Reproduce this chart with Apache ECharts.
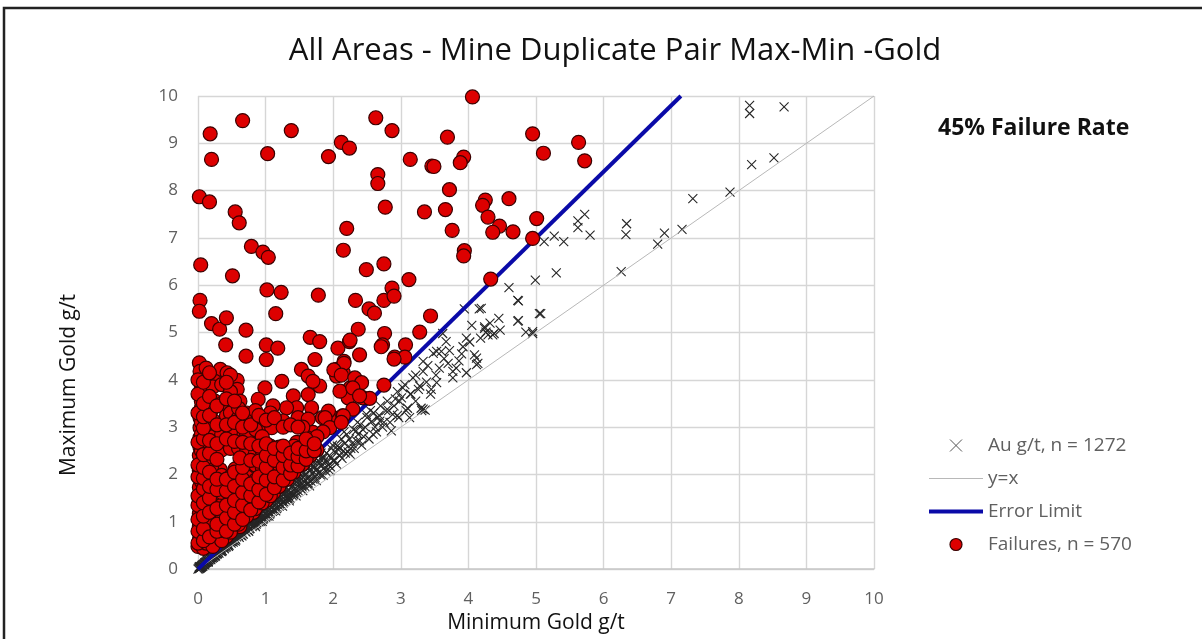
<!DOCTYPE html>
<html>
<head>
<meta charset="utf-8">
<script src="https://cdn.jsdelivr.net/npm/echarts@6/dist/echarts.min.js"></script>
<style>
  html, body { margin: 0; padding: 0; background: #ffffff; }
  #chart { width: 1202px; height: 639px; }
</style>
</head>
<body>
<div id="chart"></div>
<script>
// Axis ticks (g/t)
const xTicks = [0, 1, 2, 3, 4, 5, 6, 7, 8, 9, 10];
const yTicks = [0, 1, 2, 3, 4, 5, 6, 7, 8, 9, 10];

// Reference lines: [min, max]
const unityLine = [[0, 0], [10, 10]];
const errorLimit = [[0, 0], [7.143, 10]];

// Duplicate pairs that pass (min g/t, max g/t)
const auPairs = [
  [8.16,9.80],[8.16,9.63],[8.67,9.77],[8.19,8.55],[8.52,8.69],[7.32,7.83],[7.87,7.97],
  [7.16,7.18],[6.90,7.10],[6.80,6.87],[6.34,7.30],[6.33,7.07],[6.26,6.29],[5.72,7.50],
  [5.62,7.36],[5.62,7.22],[5.80,7.06],[5.27,7.04],[5.12,6.92],[5.41,6.92],[5.30,6.26],
  [4.99,6.11],[4.73,5.68],[4.16,5.50],[3.94,5.50],[5.07,5.40],[4.73,5.24],[4.24,5.12],
  [4.26,5.01],[4.38,4.98],[4.85,5.01],[4.95,4.98],[5.05,5.40],[4.74,5.67],[4.74,5.25],
  [4.95,5.02],[4.19,5.51],[4.24,5.09],[4.36,4.95],[3.97,4.88],[3.67,4.81],[3.53,4.60],
  [4.09,4.53],[4.14,4.35],[3.82,4.25],[3.57,4.25],[3.33,4.18],[3.18,4.04],[3.28,3.87],
  [3.53,3.94],[3.77,4.04],[3.97,4.15],[3.03,3.83],[2.98,3.55],[3.33,3.38],[3.30,3.40],
  [3.36,3.36],[3.31,3.35],[3.13,3.20],[2.88,3.27],[2.69,3.13],[2.86,2.92],[2.59,2.85],
  [2.39,2.71],[2.34,2.92],[2.49,3.27],[2.15,2.50],[2.00,2.29],[2.25,2.43],[1.95,2.08],
  [3.77,4.18],[4.12,4.32],[4.12,4.46],[3.48,4.56],[3.33,4.39],[3.06,3.90],[2.97,3.20],
  [4.29,4.95],[3.62,4.98],[3.10,3.40],[2.75,3.10],[2.62,3.00],[2.80,3.55],[2.70,3.45],
  [2.92,3.60],[2.60,3.30],[2.50,3.20],[2.45,2.80],[2.40,3.05],[2.35,2.70],[2.30,2.95],
  [2.26,2.55],[2.20,2.85],[2.18,2.45],[2.12,2.75],[2.10,2.40],[2.06,2.60],[2.02,2.30],
  [1.97,2.55],[1.93,2.20],[1.90,2.45],[1.88,2.15],[1.84,2.35],[1.80,2.05],[1.78,2.30],
  [1.75,2.00],[1.72,2.15],[1.70,1.90],[1.66,2.10],[1.63,1.82],[1.60,2.00],[1.58,1.75],
  [1.55,1.95],[1.52,1.70],[1.50,1.85],[1.46,1.62],[1.43,1.80],[1.40,1.55],[1.38,1.72],
  [1.36,1.50],[1.33,1.65],[1.30,1.45],[1.28,1.60],[1.26,1.40],[1.23,1.55],[1.20,1.33],
  [1.18,1.48],[1.16,1.28],[1.13,1.42],[1.10,1.22],[1.08,1.35],[1.06,1.16],[1.03,1.30],
  [1.00,1.10],[0.98,1.25],[0.96,1.05],[0.93,1.18],[0.90,1.00],[0.88,1.12],[0.86,0.95],
  [0.83,1.05],[0.80,0.90],[0.78,0.98],[0.76,0.85],[0.73,0.92],[0.70,0.80],[0.68,0.88],
  [0.66,0.75],[0.63,0.80],[0.60,0.70],[0.58,0.72],[0.55,0.64],[0.53,0.68],[0.50,0.58],
  [0.48,0.60],[0.45,0.52],[0.43,0.55],[0.40,0.46],[0.38,0.48],[0.35,0.40],[0.32,0.42],
  [0.30,0.36],[0.27,0.35],[0.25,0.30],[0.22,0.27],[0.20,0.25],[0.18,0.21],[0.16,0.20],
  [0.14,0.18],[0.12,0.15],[0.10,0.12],[0.08,0.10],[0.06,0.08],[0.05,0.06],[0.03,0.04],
  [0.02,0.05],[0.02,0.01],[0.01,0.02],[0.00,0.00],[0.04,0.03],[0.07,0.09],[0.11,0.14],
  [0.15,0.17],[0.19,0.24],[0.24,0.31],[0.29,0.33],[0.34,0.45],[0.39,0.52],[0.44,0.50],
  [0.47,0.64],[0.52,0.60],[0.57,0.78],[0.62,0.74],[0.67,0.91],[0.72,0.84],[0.77,1.02],
  [0.82,0.94],[0.87,1.15],[0.92,1.04],[0.97,1.30],[1.02,1.14],[1.07,1.42],[1.12,1.26],
  [1.17,1.55],[1.22,1.38],[1.27,1.68],[1.32,1.50],[1.37,1.80],[1.42,1.62],[1.47,1.92],
  [1.53,1.78],[1.57,2.05],[1.62,1.90],[1.68,2.20],[1.74,2.08],[1.82,2.45],[1.86,2.25],
  [1.99,2.62],[2.08,2.52],[2.16,2.90],[2.28,2.65],[2.36,3.10],[2.44,2.95],[2.55,3.35],
  [2.66,3.20],[2.82,3.35],[2.95,3.75],[3.15,3.70],[3.22,4.10],[3.40,4.30],[3.45,3.80],
  [3.60,4.60],[3.70,4.35],[3.90,4.55],[4.05,5.15],[4.45,5.30],[4.60,5.95],
  [0.02,0.03],[0.03,0.02],[0.04,0.05],[0.05,0.04],[0.06,0.07],[0.07,0.06],[0.09,0.11],
  [0.10,0.09],[0.11,0.13],[0.13,0.14],[0.13,0.17],[0.15,0.16],[0.16,0.19],[0.17,0.22],
  [0.19,0.20],[0.21,0.26],[0.21,0.23],[0.23,0.25],[0.24,0.29],[0.26,0.28],[0.26,0.33],
  [0.28,0.31],[0.29,0.37],[0.31,0.34],[0.33,0.38],[0.34,0.43],[0.36,0.39],[0.37,0.46],
  [0.39,0.43],[0.41,0.50],[0.42,0.47],[0.44,0.57],[0.46,0.50],[0.47,0.58],[0.49,0.55],
  [0.51,0.63],[0.52,0.57],[0.54,0.70],[0.56,0.62],[0.57,0.68],[0.59,0.75],[0.61,0.67],
  [0.62,0.78],[0.64,0.71],[0.65,0.84],[0.67,0.74],[0.69,0.85],[0.71,0.78],[0.72,0.94],
  [0.74,0.82],[0.75,0.90],[0.77,0.86],[0.79,1.02],[0.81,0.92],[0.82,0.99],[0.84,0.93],
  [0.85,1.08],[0.87,0.98],[0.89,1.06],[0.91,1.13],[0.92,1.01],[0.94,1.10],[0.95,1.22],
  [0.97,1.08],[0.99,1.18],[1.01,1.28],[1.02,1.12],[1.04,1.22],[1.05,1.35],[1.07,1.19],
  [1.09,1.30],[1.11,1.40],[1.12,1.24],[1.14,1.36],[1.15,1.46],[1.17,1.30],[1.19,1.42],
  [1.21,1.50],[1.22,1.36],[1.24,1.47],[1.25,1.58],[1.27,1.42],[1.29,1.52],[1.31,1.64],
  [1.34,1.55],[1.35,1.48],[1.37,1.62],[1.39,1.76],[1.41,1.58],[1.44,1.70],[1.45,1.85],
  [1.48,1.66],[1.49,1.78],[1.51,1.93],[1.54,1.74],[1.56,1.86],[1.59,1.98],[1.61,1.80],
  [1.64,1.95],[1.65,2.08],[1.67,1.86],[1.69,2.02],[1.71,2.18],[1.73,1.94],[1.76,2.12],
  [1.79,2.22],[1.81,1.99],[1.83,2.18],[1.86,2.35],[1.89,2.07],[1.91,2.28],[1.94,2.40],
  [1.96,2.16],[1.98,2.35],[2.03,2.48],[2.05,2.22],[2.09,2.58],[2.13,2.34],[2.17,2.65],
  [2.22,2.48],[2.24,2.75],[2.31,2.55],[2.37,2.85],[2.42,2.62],[2.47,3.00],[2.53,2.75],
  [2.57,3.12],[2.64,2.90],[2.68,3.25],[2.73,3.00],[2.78,3.35],[2.84,3.10],[2.90,3.45],
  [2.95,3.25],[3.01,3.62],[3.08,3.35],[3.14,3.70],[3.22,3.55],[3.26,3.80],[3.38,3.95],
  [3.44,3.70],[3.52,4.10],[3.64,4.45],[3.72,4.62],[3.86,4.40],[3.92,4.70],[4.02,4.80],
  [4.18,4.88],[4.32,5.20],[4.47,5.05],
  [0.10,0.13],[0.14,0.19],[0.18,0.24],[0.22,0.29],[0.26,0.35],[0.30,0.40],[0.34,0.46],
  [0.38,0.51],[0.42,0.56],[0.46,0.62],[0.50,0.66],[0.54,0.73],[0.58,0.78],[0.62,0.84],
  [0.66,0.88],[0.70,0.95],[0.74,0.99],[0.78,1.06],[0.82,1.10],[0.86,1.17],[0.90,1.21],
  [0.94,1.27],[0.98,1.31],[1.02,1.38],[1.06,1.42],[1.10,1.48],[1.14,1.52],[1.18,1.58],
  [1.22,1.63],[1.26,1.69],[1.30,1.74],[1.34,1.80],[1.38,1.85],[1.42,1.90],[1.46,1.96],
  [1.50,2.02],[1.54,2.08],[1.58,2.12],[1.62,2.18],[1.66,2.24],[1.70,2.28],[1.74,2.34],
  [1.78,2.40],
  [0.15,0.15],[0.25,0.27],[0.35,0.37],[0.45,0.48],[0.55,0.59],[0.65,0.70],[0.75,0.80],
  [0.85,0.90],[0.95,1.01],[1.05,1.12],[1.15,1.23],[1.25,1.33],[1.35,1.44],[1.45,1.55],
  [1.55,1.66],[1.65,1.76],[1.75,1.87],[1.85,1.98]
];

// Duplicate pairs beyond the error limit (min g/t, max g/t)
const failurePairs = [
  [0.18,9.20],[0.66,9.48],[1.38,9.27],[1.03,8.78],[0.20,8.66],[1.93,8.72],[2.12,9.02],
  [2.24,8.90],[2.63,9.54],[2.87,9.27],[2.66,8.34],[2.66,8.15],[3.14,8.66],[3.46,8.52],
  [3.49,8.51],[0.02,7.87],[0.17,7.76],[0.55,7.55],[0.61,7.32],[2.77,7.65],[3.35,7.55],
  [2.20,7.20],[0.79,6.82],[0.96,6.70],[1.04,6.59],[2.15,6.74],[0.04,6.43],[0.51,6.20],
  [2.49,6.33],[2.75,6.45],[3.12,6.12],[0.03,5.68],[0.02,5.45],[1.02,5.90],[1.23,5.85],
  [1.78,5.79],[2.33,5.68],[2.53,5.50],[2.61,5.41],[2.75,5.68],[2.87,5.94],[2.90,5.77],
  [1.15,5.40],[0.20,5.19],[0.32,5.07],[0.42,5.31],[0.71,5.05],[2.37,5.07],[2.76,4.98],
  [3.28,5.01],[3.44,5.35],
  [4.06,9.98],[3.69,9.13],[4.95,9.20],[5.63,9.02],[5.11,8.79],[5.72,8.63],[3.93,8.71],
  [3.88,8.59],[3.72,8.02],[3.66,7.60],[4.25,7.80],[4.21,7.69],[4.29,7.44],[4.46,7.25],
  [4.60,7.83],[4.66,7.13],[4.36,7.12],[5.01,7.41],[4.95,6.99],[3.76,7.16],[3.94,6.73],
  [3.93,6.62],[4.33,6.13],
  [0.41,4.74],[1.01,4.74],[1.18,4.67],[1.01,4.43],[0.71,4.50],[1.66,4.90],[1.80,4.81],
  [1.73,4.43],[2.07,4.67],[2.24,4.81],[2.39,4.53],[2.16,4.39],[2.05,4.22],[2.15,4.15],
  [2.73,4.74],[3.07,4.74],[2.91,4.48],[3.06,4.48],[2.75,3.89],[1.53,4.22],[1.63,4.08],
  [1.80,3.87],[1.70,3.97],[1.24,3.97],[0.99,3.83],[0.02,4.36],[0.03,4.18],[0.15,4.04],
  [0.33,4.22],[0.43,4.15],[0.58,3.99],[0.25,3.97],[0.58,3.80],[0.62,3.55],[0.50,3.55],
  [0.25,3.55],[0.08,3.66],[0.05,3.41],[0.03,3.20],[0.03,2.99],[0.03,2.78],[0.03,2.57],
  [0.02,2.40],[0.02,2.08],[0.02,1.73],[0.02,1.45],[0.02,1.17],[0.02,0.90],[0.02,0.62],
  [0.00,0.48],
  [2.25,3.83],[2.32,3.76],[2.44,3.62],[2.54,3.61],[2.22,3.62],[2.10,3.76],[2.05,4.08],
  [1.41,3.66],[1.46,3.41],[1.63,3.69],[1.68,3.41],[1.31,3.41],[1.11,3.45],[1.09,3.24],
  [0.89,3.59],[0.84,3.13],[0.94,2.92],[0.82,2.64],[0.92,2.64],[0.62,2.92],[0.50,2.71],
  [0.33,2.68],[0.42,3.24],[0.33,2.99],[0.18,2.92],[1.26,3.13],[1.48,3.20],[1.63,3.17],
  [1.84,3.20],[1.95,3.06],[2.00,3.20],[2.14,3.24],[1.70,2.89],[1.61,2.78],[1.70,2.68],
  [1.46,2.68],[1.09,2.99],[1.11,2.47],[0.99,2.29],[1.21,2.43],[1.31,2.29],[1.51,2.29],
  [1.33,2.08],[1.14,2.08],[1.01,2.01],[0.87,2.01],[0.77,2.05],[0.55,2.12],[0.30,2.50],
  [0.33,2.10],[0.20,2.15],[0.13,1.98],[0.23,1.80],[0.42,1.80],[0.62,1.84],[0.82,1.73],
  [0.99,1.77],[1.16,1.80],[1.12,1.62],[1.01,1.45],[0.82,1.45],[0.62,1.45],[0.42,1.52],
  [0.28,1.45],[0.13,1.45],[0.10,1.17],[0.28,1.17],[0.47,1.17],[0.67,1.10],[0.82,1.20],
  [0.62,0.90],[0.42,0.90],[0.18,0.90],[0.13,0.62],[0.28,0.62],[0.42,0.69],[0.08,0.44],
  [2.71,4.70],[2.25,4.84],[2.90,4.44],[2.16,4.35],[2.01,4.21],[2.12,4.10],[2.32,4.04],
  [2.42,3.94],[2.29,3.83],[2.39,3.66],[2.29,3.38],[2.15,3.24],[1.93,3.34],[1.88,3.20],
  [1.95,2.99],[2.12,3.10],[1.85,2.90],
  [0.05,0.70],[0.05,0.95],[0.05,1.30],[0.05,1.60],[0.05,1.85],[0.05,2.25],[0.05,2.50],
  [0.05,2.85],[0.05,3.10],[0.05,3.55],[0.05,3.85],
  [0.12,0.55],[0.12,0.80],[0.12,1.05],[0.12,1.30],[0.12,1.62],[0.12,1.82],[0.12,2.35],
  [0.12,2.62],[0.12,3.05],[0.12,3.30],[0.12,3.75],[0.12,4.25],
  [0.22,0.48],[0.22,0.75],[0.22,1.00],[0.22,1.30],[0.22,1.58],[0.22,1.95],[0.22,2.55],
  [0.22,2.80],[0.22,3.15],[0.22,3.40],[0.22,3.85],
  [0.35,0.60],[0.35,0.82],[0.35,1.05],[0.35,1.35],[0.35,1.62],[0.35,1.98],[0.35,2.52],
  [0.35,2.85],[0.35,3.50],[0.35,3.90],
  [0.48,0.78],[0.48,1.00],[0.48,1.30],[0.48,1.55],[0.48,1.95],[0.48,2.55],[0.48,2.90],
  [0.48,3.30],[0.48,3.75],[0.48,4.10],
  [0.60,0.95],[0.60,1.22],[0.60,1.65],[0.60,2.00],[0.60,2.55],[0.60,3.20],[0.60,3.40],
  [0.72,1.12],[0.72,1.35],[0.72,1.55],[0.72,1.95],[0.72,2.25],[0.72,2.50],[0.72,2.85],
  [0.72,3.30],
  [0.85,1.28],[0.85,1.50],[0.85,1.88],[0.85,2.20],[0.85,2.45],[0.85,2.95],[0.85,3.35],
  [0.95,1.40],[0.95,1.62],[0.95,1.95],[0.95,2.15],[0.95,2.50],[0.95,2.80],
  [1.07,1.55],[1.07,1.88],[1.07,2.30],[1.07,2.60],[1.07,3.30],
  [1.20,1.75],[1.20,1.98],[1.20,2.20],[1.20,2.58],
  [1.32,1.90],[1.32,2.50],
  [1.42,2.05],[1.42,2.42],[1.42,2.60],
  [1.55,2.22],[1.55,2.50],[1.55,3.00],
  [1.66,2.40],[1.66,2.62],
  [1.76,2.52],[1.76,2.80],
  [0.00,0.55],[0.00,0.80],[0.00,1.05],[0.00,1.35],[0.00,1.55],[0.00,1.95],[0.00,2.20],
  [0.00,2.68],[0.00,3.30],[0.00,3.70],[0.00,4.00],
  [0.08,0.60],[0.08,0.85],[0.08,1.12],[0.08,1.40],[0.08,1.70],[0.08,1.92],[0.08,2.15],
  [0.08,2.42],[0.08,2.75],[0.08,2.98],[0.08,3.22],[0.08,3.50],[0.08,3.95],
  [0.17,0.68],[0.17,1.20],[0.17,1.50],[0.17,1.75],[0.17,2.05],[0.17,2.45],[0.17,2.72],
  [0.17,3.25],[0.17,3.65],[0.17,4.15],
  [0.28,0.80],[0.28,0.95],[0.28,1.28],[0.28,1.68],[0.28,1.90],[0.28,2.65],[0.28,3.05],
  [0.28,3.45],[0.28,2.32],
  [0.42,0.80],[0.42,1.08],[0.42,1.35],[0.42,1.65],[0.42,1.90],[0.42,2.75],[0.42,3.05],
  [0.42,3.60],[0.42,3.95],
  [0.54,0.95],[0.54,1.20],[0.54,1.45],[0.54,1.75],[0.54,2.05],[0.54,2.70],[0.54,3.10],
  [0.54,3.55],
  [0.66,1.05],[0.66,1.35],[0.66,1.62],[0.66,1.90],[0.66,2.15],[0.66,2.68],[0.66,3.00],
  [0.66,3.30],[0.62,2.35],
  [0.78,1.25],[0.78,1.55],[0.78,1.80],[0.78,2.30],[0.78,2.65],[0.78,3.05],
  [0.90,1.42],[0.90,1.68],[0.90,1.95],[0.90,2.28],[0.90,2.60],[0.90,3.25],
  [1.01,1.58],[1.01,1.88],[1.01,2.15],[1.01,2.40],[1.01,2.65],[1.01,3.15],
  [1.13,1.72],[1.13,1.95],[1.13,2.30],[1.13,2.55],[1.13,3.20],
  [1.26,1.88],[1.26,2.15],[1.26,2.40],[1.26,2.60],[1.26,3.00],
  [1.37,2.02],[1.37,2.20],[1.37,2.45],[1.37,3.05],
  [1.48,2.18],[1.48,2.38],[1.48,2.55],[1.48,3.00],
  [1.60,2.32],[1.60,2.50],[1.60,2.75],
  [1.72,2.50],[1.72,2.65]
];

const crossIcon = 'path://M0,0L10,10M10,0L0,10';
const barIcon = 'path://M0,0L54,0L54,4L0,4Z';
const hairIcon = 'path://M0,0L54,0L54,1L0,1Z';
const font = '"Open Sans", "Liberation Sans", sans-serif';

const chart = echarts.init(document.getElementById('chart'), null, { renderer: 'canvas' });

chart.setOption({
  backgroundColor: '#ffffff',
  animation: false,
  title: {
    text: 'All Areas - Mine Duplicate Pair Max-Min -Gold',
    left: 610,
    top: 31,
    textAlign: 'center',
    textStyle: { fontFamily: font, fontSize: 31, fontWeight: 'normal', color: '#111111' }
  },
  grid: { left: 198, right: 328, top: 96, bottom: 66, containLabel: false },
  xAxis: {
    type: 'value', min: xTicks[0], max: xTicks[xTicks.length - 1], interval: 1,
    name: 'Minimum Gold g/t', nameLocation: 'middle', nameGap: 38,
    nameTextStyle: { fontFamily: font, fontSize: 21, color: '#111111' },
    axisLine: { show: true, lineStyle: { color: '#c8c8c8', width: 1.5 } },
    axisTick: { show: false },
    axisLabel: { margin: 22, fontFamily: font, fontSize: 17, color: '#606060' },
    splitLine: { show: true, lineStyle: { color: '#d6d6d6', width: 1.4 } }
  },
  yAxis: {
    type: 'value', min: yTicks[0], max: yTicks[yTicks.length - 1], interval: 1,
    axisLine: { show: false },
    axisTick: { show: false },
    axisLabel: { margin: 20, fontFamily: font, fontSize: 17, color: '#606060' },
    splitLine: { show: true, lineStyle: { color: '#d6d6d6', width: 1.4 } }
  },
  legend: {
    orient: 'vertical',
    left: 924,
    top: 429,
    itemWidth: 54,
    itemHeight: 12,
    itemGap: 10,
    selectedMode: false,
    textStyle: { fontFamily: font, fontSize: 19, color: '#606060', lineHeight: 23 },
    data: [
      { name: 'Au g/t, n = 1272', icon: crossIcon,
        itemStyle: { color: 'rgba(0,0,0,0)', borderColor: '#555555', borderWidth: 1 } },
      { name: 'y=x', icon: hairIcon, itemStyle: { color: '#b8b8b8' },
        lineStyle: { color: '#b8b8b8', width: 1 } },
      { name: 'Error Limit', icon: barIcon, itemStyle: { color: '#0a0aa8' },
        lineStyle: { color: '#0a0aa8', width: 4 } },
      { name: 'Failures, n = 570', icon: 'circle',
        itemStyle: { color: '#dd0000', borderColor: '#3a0000', borderWidth: 1.2 } }
    ]
  },
  graphic: [
    { type: 'rect', silent: true, z: 100,
      shape: { x: 4, y: 8, width: 1300, height: 700 },
      style: { fill: 'none', stroke: '#222222', lineWidth: 2.5 } },
    { type: 'text', left: 938, top: 117, silent: true,
      style: { text: '45% Failure Rate', fontFamily: font, fontSize: 23, fontWeight: 'bold', fill: '#111111' } },
    { type: 'text', x: 69, y: 385, rotation: Math.PI / 2, silent: true,
      style: { text: 'Maximum Gold g/t', fontFamily: font, fontSize: 21, fill: '#111111',
               align: 'center', verticalAlign: 'middle' } }
  ],
  series: [
    {
      name: 'Au g/t, n = 1272', type: 'scatter', data: auPairs, z: 2,
      symbol: crossIcon, symbolSize: 9,
      itemStyle: { color: 'rgba(0,0,0,0)', borderColor: '#262626', borderWidth: 1.1, opacity: 1 },
      emphasis: { disabled: true }
    },
    {
      name: 'y=x', type: 'line', data: unityLine, z: 3,
      symbol: 'none', lineStyle: { color: '#b8b8b8', width: 1 }, itemStyle: { color: '#b8b8b8' }
    },
    {
      name: 'Error Limit', type: 'line', data: errorLimit, z: 4,
      symbol: 'none', lineStyle: { color: '#0a0aa8', width: 4 }, itemStyle: { color: '#0a0aa8' }
    },
    {
      name: 'Failures, n = 570', type: 'scatter', data: failurePairs, z: 5,
      symbol: 'circle', symbolSize: 14,
      itemStyle: { color: '#dd0000', borderColor: '#3a0000', borderWidth: 1.2, opacity: 1 },
      emphasis: { disabled: true }
    }
  ]
});
</script>
</body>
</html>
